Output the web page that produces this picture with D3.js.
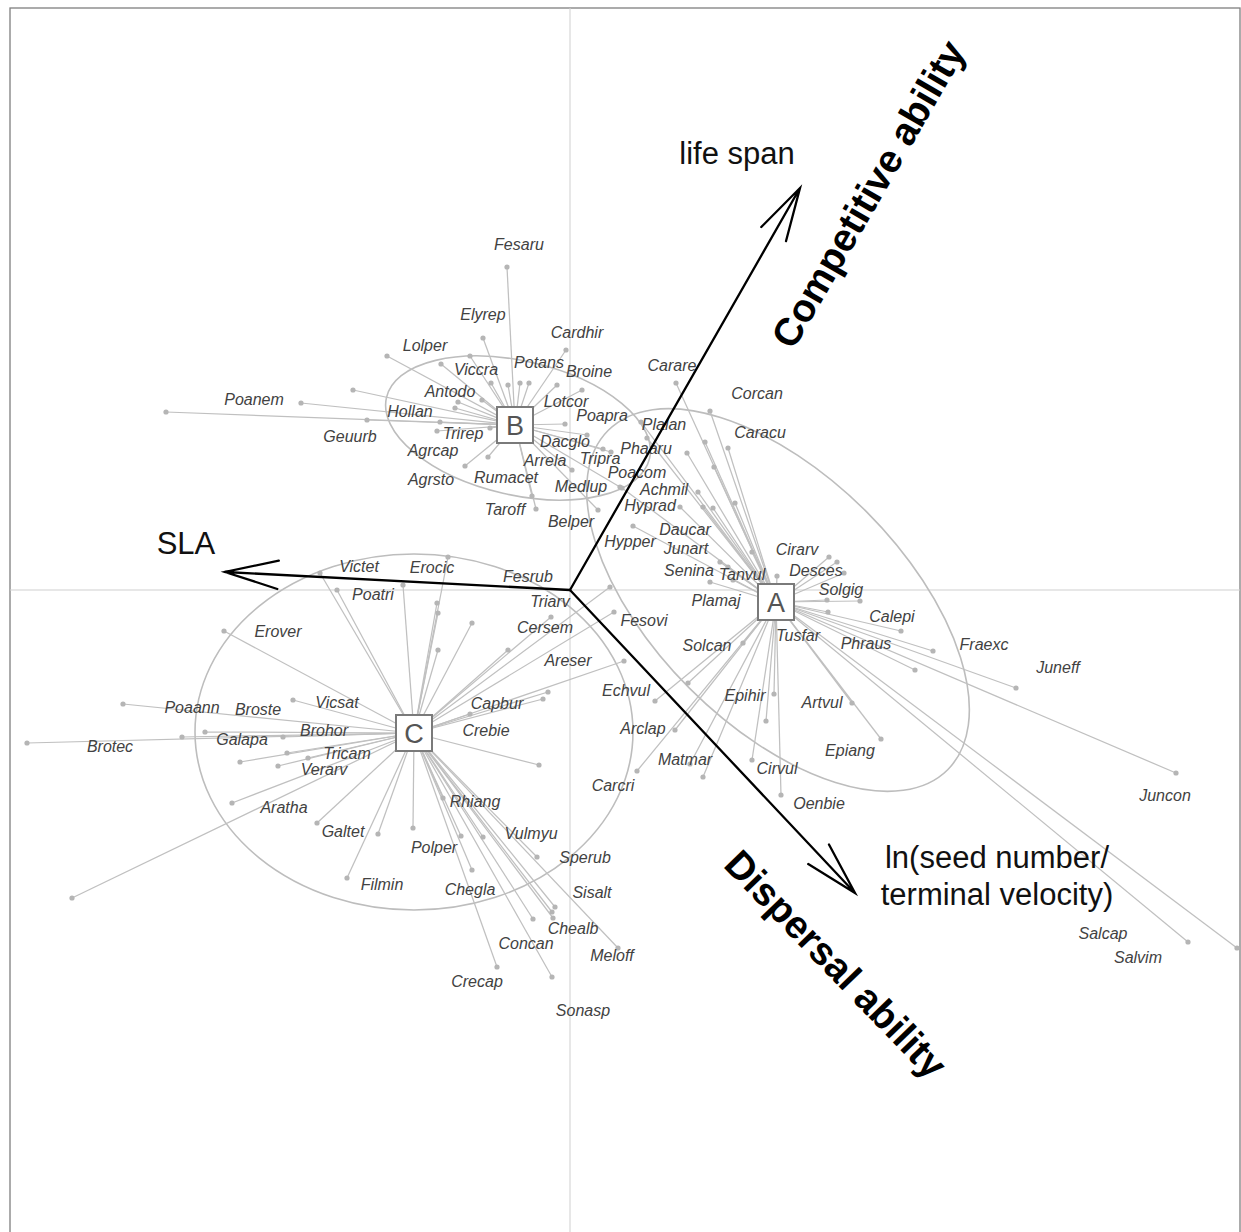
<!DOCTYPE html>
<html>
<head>
<meta charset="utf-8">
<script src="https://cdn.jsdelivr.net/npm/d3@7"></script>
<style>
  body { margin: 0; background: #fff; }
  svg { display: block; }
</style>
</head>
<body>
<svg id="chart" width="1241" height="1232"></svg>
<script>
// ---- Ordination scores --------------------------------------------------

// Group centroids (strategy types)
const groupNames = ["A", "B", "C"];
const centroidX = [2.06, -0.55, -1.56];
const centroidY = [-0.12, 1.65, -1.43];

// Dispersion ellipses per group: centre, semi-axes, rotation (degrees, ccw)
const ellipseCX = [2.08, -0.52, -1.56];
const ellipseCY = [-0.10, 1.62, -1.42];
const ellipseA = [2.40, 1.35, 2.19];
const ellipseB = [1.25, 0.67, 1.78];
const ellipseRot = [-45, -13, 0];

// Species: [code, x, y, label x, label y]
const speciesA = [
  ["Carare", 1.06, 2.07, 1.02, 2.25],
  ["Corcan", 1.40, 1.79, 1.87, 1.97],
  ["Caracu", 1.58, 1.42, 1.90, 1.58],
  ["Plalan", 0.71, 1.68, 0.94, 1.66],
  ["Phaaru", 0.77, 1.52, 0.76, 1.42],
  ["Poacom", 0.52, 1.02, 0.67, 1.18],
  ["Achmil", 1.17, 1.37, 0.94, 1.01],
  ["Hyprad", 1.10, 0.83, 0.80, 0.85],
  ["Hypper", 0.63, 0.64, 0.60, 0.49],
  ["Daucar", 1.28, 0.98, 1.15, 0.61],
  ["Junart", 1.50, 0.28, 1.16, 0.42],
  ["Senina", 1.40, 0.08, 1.19, 0.20],
  ["Tanvul", 1.63, 0.10, 1.72, 0.16],
  ["Cirarv", 2.07, 0.14, 2.27, 0.41],
  ["Desces", 2.67, 0.28, 2.46, 0.20],
  ["Solgig", 2.90, -0.11, 2.71, 0.01],
  ["Plamaj", 1.58, 0.23, 1.46, -0.10],
  ["Calepi", 3.31, -0.41, 3.22, -0.26],
  ["Tusfar", 2.58, -0.22, 2.28, -0.45],
  ["Phraus", 3.45, -0.80, 2.96, -0.53],
  ["Fraexc", 3.63, -0.61, 4.14, -0.54],
  ["Juneff", 4.46, -0.98, 4.88, -0.77],
  ["Juncon", 6.06, -1.83, 5.95, -2.05],
  ["Salcap", 6.18, -3.52, 5.33, -3.43],
  ["Salvim", 6.67, -3.58, 5.68, -3.67],
  ["Solcan", 1.73, -0.53, 1.37, -0.55],
  ["Echvul", 0.85, -1.11, 0.56, -1.00],
  ["Epihir", 2.04, -1.04, 1.75, -1.05],
  ["Artvul", 2.82, -1.13, 2.52, -1.12],
  ["Arclap", 1.05, -1.40, 0.73, -1.38],
  ["Matmar", 1.20, -1.74, 1.15, -1.69],
  ["Epiang", 3.11, -1.49, 2.80, -1.60],
  ["Cirvul", 1.82, -1.70, 2.07, -1.78],
  ["Carcri", 0.67, -1.81, 0.43, -1.95],
  ["Oenbie", 2.11, -2.05, 2.49, -2.13]
];

const speciesB = [
  ["Fesaru", -0.63, 3.23, -0.51, 3.46],
  ["Elyrep", -0.87, 2.52, -0.87, 2.76],
  ["Cardhir", -0.04, 2.40, 0.07, 2.58],
  ["Lolper", -1.83, 2.34, -1.45, 2.45],
  ["Viccra", -1.00, 2.34, -0.94, 2.21],
  ["Potans", -0.50, 2.07, -0.31, 2.28],
  ["Broine", 0.12, 2.00, 0.19, 2.19],
  ["Antodo", -1.12, 1.88, -1.20, 1.99],
  ["Lotcor", -0.05, 1.66, -0.04, 1.89],
  ["Poanem", -4.04, 1.78, -3.16, 1.91],
  ["Hollan", -2.17, 2.00, -1.60, 1.79],
  ["Geuurb", -2.03, 1.70, -2.20, 1.54],
  ["Trirep", -1.33, 1.59, -1.07, 1.57],
  ["Agrcap", -1.05, 1.24, -1.37, 1.40],
  ["Agrsto", -0.82, 1.33, -1.39, 1.11],
  ["Rumacet", -0.38, 0.94, -0.64, 1.13],
  ["Taroff", -0.34, 0.81, -0.65, 0.81],
  ["Arrela", 0.02, 1.20, -0.25, 1.30],
  ["Dacglo", 0.33, 1.41, -0.05, 1.49],
  ["Medlup", 0.50, 1.03, 0.11, 1.04],
  ["Tripra", 0.41, 1.38, 0.30, 1.32],
  ["Belper", 0.28, 0.80, 0.01, 0.69],
  ["Poapra", 0.17, 1.55, 0.32, 1.75]
];

const speciesC = [
  ["Victet", -2.50, 0.17, -2.11, 0.24],
  ["Poatri", -2.33, 0.00, -1.97, -0.04],
  ["Erocic", -1.22, 0.33, -1.38, 0.23],
  ["Fesrub", 0.40, 0.03, -0.42, 0.14],
  ["Triarv", -0.19, -0.27, -0.20, -0.11],
  ["Cersem", -0.62, -0.60, -0.25, -0.37],
  ["Fesovi", 0.44, -0.22, 0.74, -0.30],
  ["Erover", -3.46, -0.41, -2.92, -0.41],
  ["Areser", 0.54, -0.71, -0.02, -0.70],
  ["Vicsat", -2.77, -1.10, -2.33, -1.12],
  ["Capbur", -0.22, -1.02, -0.73, -1.13],
  ["Poaann", -4.47, -1.14, -3.78, -1.17],
  ["Broste", -3.65, -1.42, -3.12, -1.19],
  ["Brohor", -2.87, -1.47, -2.46, -1.40],
  ["Galapa", -3.88, -1.47, -3.28, -1.49],
  ["Crebie", -0.31, -1.75, -0.84, -1.40],
  ["Brotec", -5.43, -1.53, -4.60, -1.56],
  ["Tricam", -2.62, -1.68, -2.23, -1.63],
  ["Verarv", -2.92, -1.76, -2.46, -1.79],
  ["Aratha", -3.38, -2.13, -2.86, -2.17],
  ["Rhiang", -1.27, -2.08, -0.95, -2.11],
  ["Galtet", -2.53, -2.33, -2.27, -2.41],
  ["Polper", -1.57, -2.38, -1.36, -2.57],
  ["Filmin", -2.23, -2.88, -1.88, -2.94],
  ["Vulmyu", -0.33, -2.67, -0.39, -2.43],
  ["Sperub", -0.15, -3.17, 0.15, -2.67],
  ["Chegla", -0.98, -2.80, -1.00, -2.99],
  ["Sisalt", -0.17, -3.28, 0.22, -3.02],
  ["Chealb", -0.18, -3.22, 0.03, -3.38],
  ["Concan", -0.37, -3.29, -0.44, -3.53],
  ["Meloff", 0.48, -3.58, 0.42, -3.65],
  ["Crecap", -0.73, -3.77, -0.93, -3.91],
  ["Sonasp", -0.18, -3.87, 0.13, -4.20]
];

// Species whose labels were suppressed to avoid overplotting: [x, y]
const unlabeledA = [
  [1.35, 1.48], [1.44, 1.23], [1.65, 0.87], [1.43, 0.82], [1.33, 0.83],
  [1.82, 0.38], [2.59, 0.33], [2.74, 0.17], [2.57, -0.10], [1.96, -1.31],
  [1.18, -0.93], [1.33, -1.87]
];
const unlabeledB = [
  [-2.69, 1.87], [-1.29, 2.26], [-0.79, 2.07], [-0.62, 2.05], [-0.41, 2.07],
  [-0.13, 2.05], [-1.15, 1.82], [-0.88, 1.90], [-1.30, 1.68], [-0.80, 1.62]
];
const unlabeledC = [
  [-1.67, 0.05], [-1.33, -0.13], [-1.32, -0.23], [-1.32, -0.60], [-0.98, -0.33],
  [-0.27, -1.09], [-1.00, -1.24], [-2.83, -1.63], [-3.30, -1.72], [-1.09, -2.46],
  [-0.87, -2.47], [-1.92, -2.44], [-4.98, -3.08]
];

// Trait vectors and their labels
const traitNames = ["SLA", "life span", "ln(seed number/\nterminal velocity)"];
const traitX = [-3.45, 2.30, 2.85];
const traitY = [0.18, 4.02, -3.03];
const traitLabelX = [-3.84, 1.67, 4.27];
const traitLabelY = [0.47, 4.37, -2.86];

// Interpretive axis titles
const themeNames = ["Competitive ability", "Dispersal ability"];
const themeX = [2.98, 2.66];
const themeY = [3.96, -3.74];
const themeAngle = [-60, 46];

// ---- Drawing ------------------------------------------------------------

const svg = d3.select("#chart");
const x = d3.scaleLinear().domain([-5.6, 6.7]).range([10, 1240]);
const y = d3.scaleLinear().domain([5.82, -6.5]).range([8, 1240]);

const labeled = [speciesA, speciesB, speciesC];
const unlabeled = [unlabeledA, unlabeledB, unlabeledC];

const species = [];
groupNames.forEach((g, i) => {
  labeled[i].forEach(d => species.push({
    group: i, name: d[0], x: d[1], y: d[2], lx: d[3], ly: d[4]
  }));
  unlabeled[i].forEach(d => species.push({
    group: i, name: null, x: d[0], y: d[1]
  }));
});

// plot frame
svg.append("rect")
  .attr("x", x(-5.6)).attr("y", y(5.82))
  .attr("width", x(6.7) - x(-5.6)).attr("height", y(-6.5) - y(5.82))
  .attr("fill", "none").attr("stroke", "#7f7f7f").attr("stroke-width", 1.3);

// zero lines
svg.append("line")
  .attr("x1", x(0)).attr("x2", x(0)).attr("y1", y(5.82)).attr("y2", y(-6.5))
  .attr("stroke", "#cfcfcf").attr("stroke-width", 1);
svg.append("line")
  .attr("x1", x(-5.6)).attr("x2", x(6.7)).attr("y1", y(0)).attr("y2", y(0))
  .attr("stroke", "#cfcfcf").attr("stroke-width", 1);

// group ellipses
const unitX = x(1) - x(0);
const unitY = y(0) - y(1);
groupNames.forEach((g, i) => {
  svg.append("ellipse")
    .attr("transform", `translate(${x(ellipseCX[i])},${y(ellipseCY[i])}) rotate(${-ellipseRot[i]})`)
    .attr("rx", ellipseA[i] * unitX)
    .attr("ry", ellipseB[i] * unitY)
    .attr("fill", "none")
    .attr("stroke", "#bdbdbd")
    .attr("stroke-width", 1.6);
});

// spokes from centroid to each species
svg.append("g").selectAll("line")
  .data(species).join("line")
  .attr("x1", d => x(centroidX[d.group]))
  .attr("y1", d => y(centroidY[d.group]))
  .attr("x2", d => x(d.x))
  .attr("y2", d => y(d.y))
  .attr("stroke", "#c0c0c0")
  .attr("stroke-width", 1.25);

// species points
svg.append("g").selectAll("circle")
  .data(species).join("circle")
  .attr("cx", d => x(d.x))
  .attr("cy", d => y(d.y))
  .attr("r", 2.6)
  .attr("fill", "#b5b5b5");

// species labels
svg.append("g").selectAll("text")
  .data(species.filter(d => d.name))
  .join("text")
  .attr("x", d => x(d.lx))
  .attr("y", d => y(d.ly))
  .attr("dy", "0.35em")
  .attr("text-anchor", "middle")
  .attr("font-family", "'Liberation Sans', Arial, sans-serif")
  .attr("font-style", "italic")
  .attr("font-size", 16)
  .attr("fill", "#424242")
  .text(d => d.name);

// centroid boxes
const box = 36;
groupNames.forEach((g, i) => {
  const cx = x(centroidX[i]), cy = y(centroidY[i]);
  svg.append("rect")
    .attr("x", cx - box / 2).attr("y", cy - box / 2)
    .attr("width", box).attr("height", box)
    .attr("fill", "#fff").attr("stroke", "#7a7a7a").attr("stroke-width", 2);
  svg.append("text")
    .attr("x", cx).attr("y", cy).attr("dy", "0.36em")
    .attr("text-anchor", "middle")
    .attr("font-family", "'Liberation Sans', Arial, sans-serif")
    .attr("font-size", 27)
    .attr("fill", "#555")
    .text(g);
});

// trait arrows with open heads
const headLen = 55, headAng = 15 * Math.PI / 180;
traitNames.forEach((t, i) => {
  const x0 = x(0), y0 = y(0), x1 = x(traitX[i]), y1 = y(traitY[i]);
  const ang = Math.atan2(y0 - y1, x0 - x1);
  const w1 = [x1 + headLen * Math.cos(ang + headAng), y1 + headLen * Math.sin(ang + headAng)];
  const w2 = [x1 + headLen * Math.cos(ang - headAng), y1 + headLen * Math.sin(ang - headAng)];
  svg.append("path")
    .attr("d", `M${x0},${y0}L${x1},${y1}M${w1[0]},${w1[1]}L${x1},${y1}L${w2[0]},${w2[1]}`)
    .attr("fill", "none").attr("stroke", "#000").attr("stroke-width", 2.3)
    .attr("stroke-linecap", "round").attr("stroke-linejoin", "miter");

  const lines = t.split("\n");
  const txt = svg.append("text")
    .attr("x", x(traitLabelX[i]))
    .attr("y", y(traitLabelY[i]))
    .attr("text-anchor", "middle")
    .attr("font-family", "'Liberation Sans', Arial, sans-serif")
    .attr("font-size", 31)
    .attr("fill", "#111");
  lines.forEach((l, k) => {
    txt.append("tspan")
      .attr("x", x(traitLabelX[i]))
      .attr("dy", k === 0 ? `${0.35 - (lines.length - 1) * 0.6}em` : "1.2em")
      .text(l);
  });
});

// interpretive axis titles
themeNames.forEach((t, i) => {
  svg.append("text")
    .attr("transform", `translate(${x(themeX[i])},${y(themeY[i])}) rotate(${themeAngle[i]})`)
    .attr("dy", "0.35em")
    .attr("text-anchor", "middle")
    .attr("font-family", "'Liberation Sans', Arial, sans-serif")
    .attr("font-weight", "bold")
    .attr("font-size", 39)
    .attr("fill", "#000")
    .text(t);
});
</script>
</body>
</html>
